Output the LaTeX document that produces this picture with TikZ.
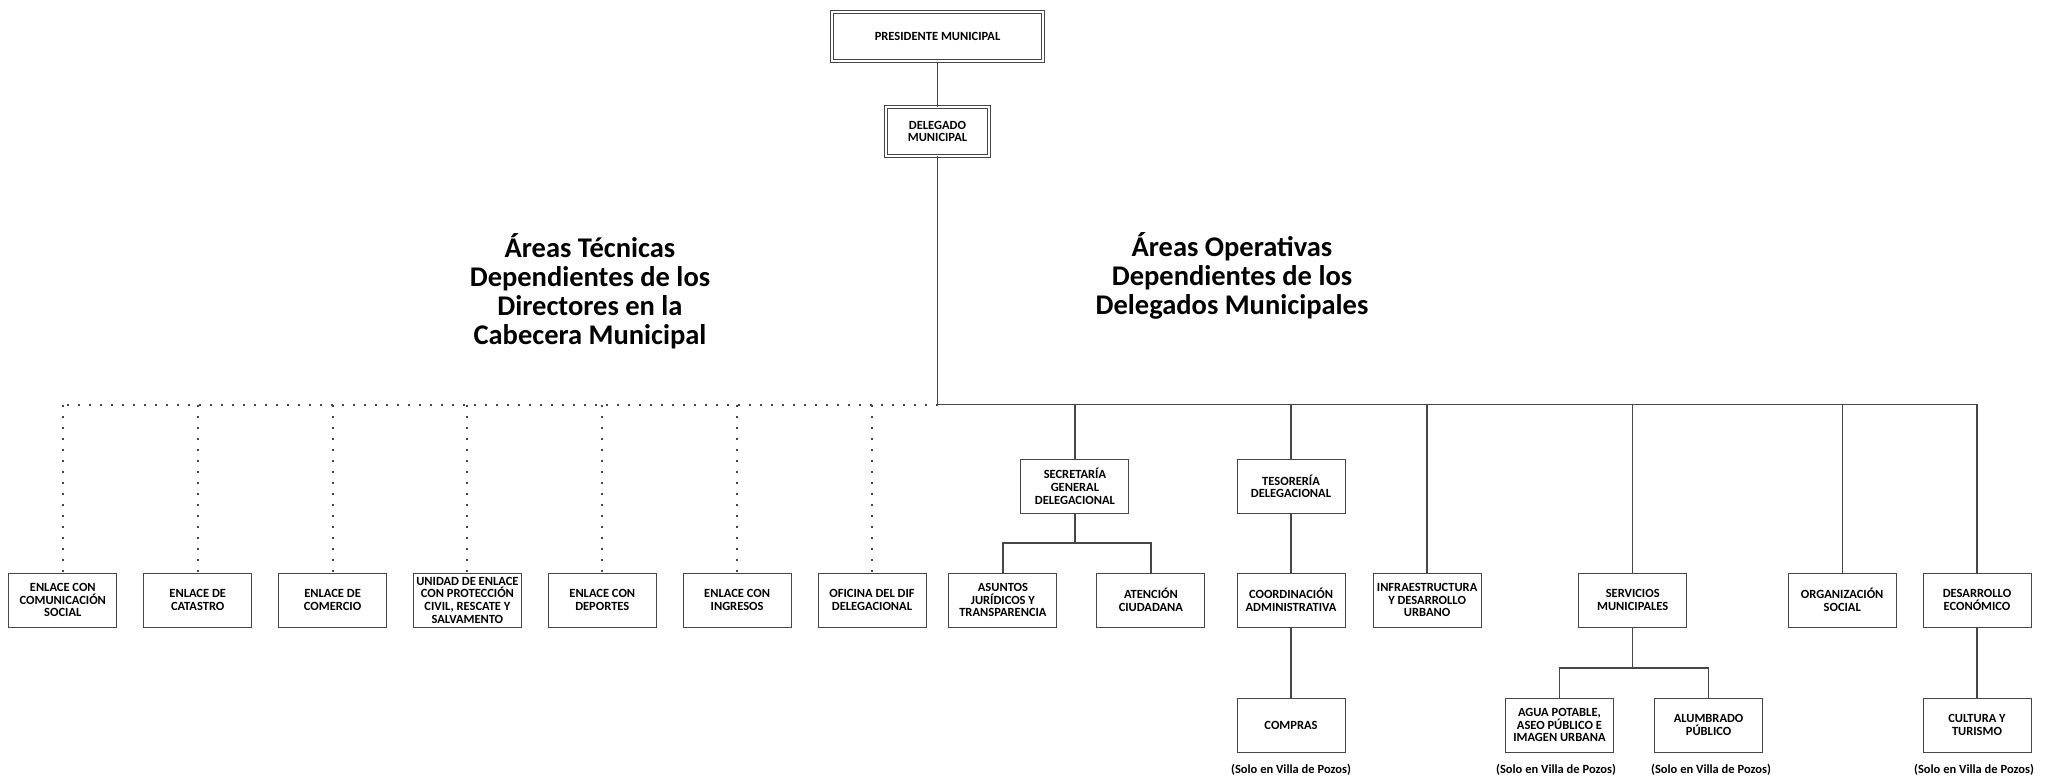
\documentclass[tikz,border=0pt]{standalone}
\usepackage{fontspec}
\setmainfont{Carlito}
\usepackage{tikz}
\definecolor{linea}{RGB}{70,70,70}

\begin{document}
\begin{tikzpicture}[x=1pt,y=-1pt,
  caja/.style={draw=linea,line width=1pt,fill=white,minimum width=108pt,minimum height=54pt,inner sep=1pt,align=center,font=\bfseries\fontsize{12.5}{12.7}\selectfont},
  cajad/.style={caja,double,double distance=2pt,line width=0.8pt},
  liga/.style={draw=linea,line width=1.3pt},
  punteada/.style={draw=linea,line width=2pt,dash pattern=on 2pt off 9pt},
  titulo/.style={align=center,font=\bfseries\fontsize{28.5}{29}\selectfont},
  nota/.style={anchor=base,font=\bfseries\fontsize{12.5}{13}\selectfont}]
\path[use as bounding box,fill=white] (0,0) rectangle (2053,780);

% cabeza
\node[cajad,minimum width=211pt,minimum height=49pt] (pres) at (937.5,36.7) {PRESIDENTE MUNICIPAL};
\node[cajad,minimum width=103pt,minimum height=49pt] (dg) at (937.5,131.5) {DELEGADO\\MUNICIPAL};
\coordinate (bus) at (937.5,404.6);

% titulos
\node[titulo] (tt) at (590,291) {Áreas Técnicas\\Dependientes de los\\Directores en la\\Cabecera Municipal};
\node[titulo] (to) at (1232,276) {Áreas Operativas\\Dependientes de los\\Delegados Municipales};

% areas tecnicas
\node[caja] (t1) at (62.8,600) {ENLACE CON\\COMUNICACIÓN\\SOCIAL};
\node[caja] (t2) at (197.7,600) {ENLACE DE\\CATASTRO};
\node[caja] (t3) at (332.6,600) {ENLACE DE\\COMERCIO};
\node[caja] (t4) at (467.4,600) {UNIDAD DE ENLACE\\CON PROTECCIÓN\\CIVIL, RESCATE Y\\SALVAMENTO};
\node[caja] (t5) at (602.3,600) {ENLACE CON\\DEPORTES};
\node[caja] (t6) at (737.1,600) {ENLACE CON\\INGRESOS};
\node[caja] (t7) at (872.0,600) {OFICINA DEL DIF\\DELEGACIONAL};

% areas operativas
\node[caja] (sg) at (1074.9,486.4) {SECRETARÍA\\GENERAL\\DELEGACIONAL};
\node[caja] (ts) at (1291.0,486.4) {TESORERÍA\\DELEGACIONAL};
\node[caja] (aj) at (1002.9,600) {ASUNTOS\\JURÍDICOS Y\\TRANSPARENCIA};
\node[caja] (ac) at (1150.9,600) {ATENCIÓN\\CIUDADANA};
\node[caja] (ca) at (1291.0,600) {COORDINACIÓN\\ADMINISTRATIVA};
\node[caja] (inf) at (1427.1,600) {INFRAESTRUCTURA\\Y DESARROLLO\\URBANO};
\node[caja] (sm) at (1632.7,600) {SERVICIOS\\MUNICIPALES};
\node[caja] (os) at (1842.2,600) {ORGANIZACIÓN\\SOCIAL};
\node[caja] (de) at (1977.0,600) {DESARROLLO\\ECONÓMICO};
\node[caja] (co) at (1291.0,725) {COMPRAS};
\node[caja] (ap) at (1559.4,725) {AGUA POTABLE,\\ASEO PÚBLICO E\\IMAGEN URBANA};
\node[caja] (al) at (1708.6,725) {ALUMBRADO\\PÚBLICO};
\node[caja] (ct) at (1977.0,725) {CULTURA Y\\TURISMO};

% notas
\node[nota] (n1) at (1291.0,773) {(Solo en Villa de Pozos)};
\node[nota] (n2) at (1556.0,773) {(Solo en Villa de Pozos)};
\node[nota] (n3) at (1711.0,773) {(Solo en Villa de Pozos)};
\node[nota] (n4) at (1974.0,773) {(Solo en Villa de Pozos)};

% lineas
\draw[liga] (pres) -- (dg);
\draw[liga] (dg) -- (bus);
\foreach \n in {sg,ts,inf,sm,os,de}
  \draw[liga] (bus) -| (\n.north);
\coordinate (sgs) at (1074.9,543);
\draw[liga] (sg) -- (sgs);
\draw[liga] (sgs) -| (aj.north);
\draw[liga] (sgs) -| (ac.north);
\draw[liga] (ts) -- (ca);
\draw[liga] (ca) -- (co);
\coordinate (sms) at (1632.7,668);
\draw[liga] (sm) -- (sms);
\draw[liga] (sms) -| (ap.north);
\draw[liga] (sms) -| (al.north);
\draw[liga] (de) -- (ct);

\draw[punteada] (bus) -- (t1.north |- bus);
\foreach \n in {t1,t2,t3,t4,t5,t6,t7}
  \draw[punteada] (\n.north |- bus) -- (\n.north);
\end{tikzpicture}
\end{document}
